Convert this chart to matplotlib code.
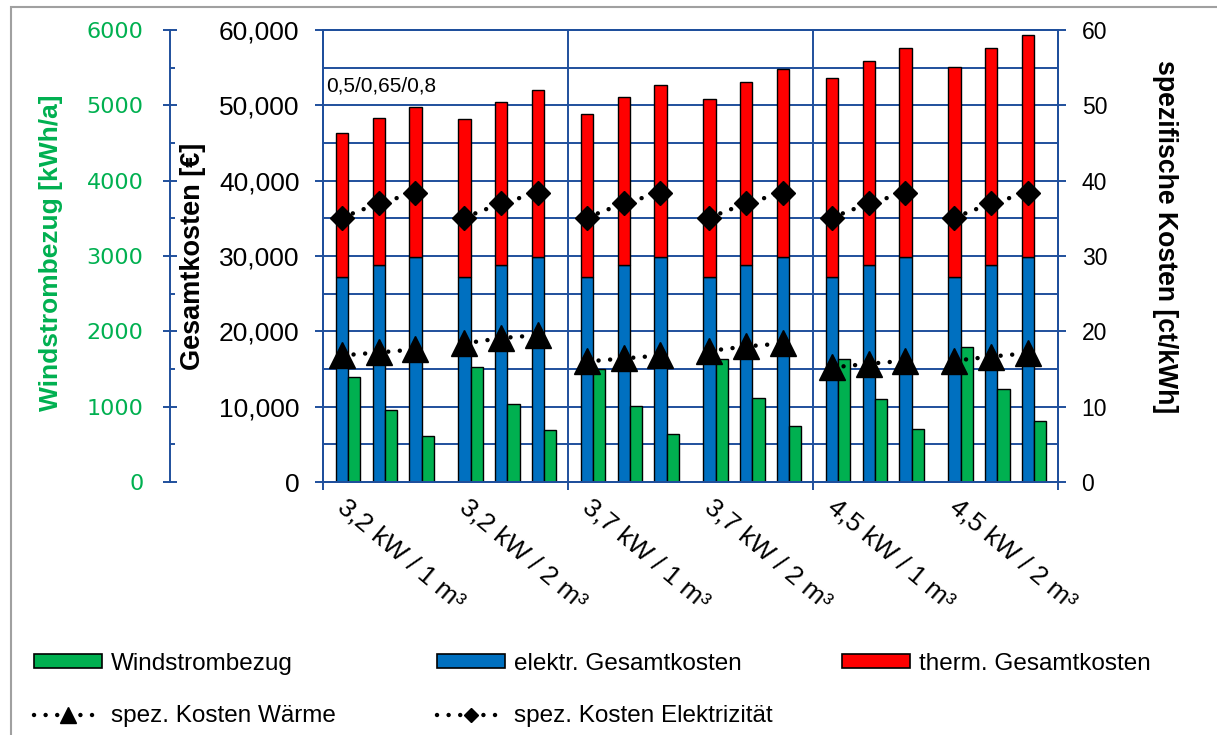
import numpy as np
import matplotlib.pyplot as plt
from matplotlib.lines import Line2D
from matplotlib.patches import Patch, Rectangle
from matplotlib.ticker import MultipleLocator
from matplotlib.transforms import ScaledTranslation

plt.rcParams['font.family'] = ['Liberation Sans', 'DejaVu Sans']

# configurations (x axis), three sub-variants 0,5 / 0,65 / 0,8 each
configs = ["3,2 kW / 1 m³", "3,2 kW / 2 m³", "3,7 kW / 1 m³",
           "3,7 kW / 2 m³", "4,5 kW / 1 m³", "4,5 kW / 2 m³"]

# elektr. Gesamtkosten [€]
elektr = [[27200, 28800, 29900]] * 6
# therm. Gesamtkosten [€] (stacked on top of elektr.)
therm = [[19100, 19550, 19900],
         [21000, 21600, 22100],
         [21700, 22350, 22750],
         [23650, 24350, 24900],
         [26450, 27100, 27750],
         [27950, 28750, 29450]]
# Windstrombezug [kWh/a]
wind = [[1395, 952, 611],
        [1528, 1041, 687],
        [1497, 1010, 643],
        [1630, 1121, 740],
        [1639, 1108, 700],
        [1793, 1231, 810]]
# spez. Kosten Wärme / Elektrizität [ct/kWh]
spez_waerme = [[16.8, 17.2, 17.6],
               [18.4, 19.1, 19.5],
               [16.0, 16.4, 16.8],
               [17.4, 18.0, 18.4],
               [15.2, 15.7, 16.1],
               [16.1, 16.65, 17.1]]
spez_elek = [[35.1, 37.0, 38.4]] * 6

left_ticks = list(range(0, 60001, 10000))
wind_ticks = list(range(0, 6001, 1000))
right_ticks = list(range(0, 61, 10))

GRID = '#1f4f9c'
C_BLUE = '#0070c0'
C_RED = '#ff0000'
C_GREEN = '#00b050'

W, H = 1217, 735
fig = plt.figure(figsize=(W / 100, H / 100), dpi=100)
ax = fig.add_axes([323 / W, 1 - 482 / H, 735 / W, 452 / H])
ax3 = ax.twinx()   # Windstrombezug axis (far left)
ax2 = ax.twinx()   # spezifische Kosten (right)

sub_off = np.array([-0.295, 0.005, 0.305])
bw = 0.1
xs = np.add.outer(np.arange(len(configs)), sub_off)

el = np.array(elektr)
ax.bar(xs.ravel() - bw / 2, el.ravel(), width=bw, color=C_BLUE,
       edgecolor='black', linewidth=1, zorder=3)
ax.bar(xs.ravel() - bw / 2, np.array(therm).ravel(), bottom=el.ravel(),
       width=bw, color=C_RED, edgecolor='black', linewidth=1, zorder=3)
ax3.bar(xs.ravel() + bw / 2, np.array(wind).ravel(), width=bw,
        color=C_GREEN, edgecolor='black', linewidth=1, zorder=3)

dots = (0, (0.01, 2.6))
for g in range(len(configs)):
    ax2.plot(xs[g] - bw / 2, spez_waerme[g], color='black', lw=3.2,
             ls=dots, dash_capstyle='round', marker='^', ms=18.5)
    ax2.plot(xs[g] - bw / 2, spez_elek[g], color='black', lw=3.2,
             ls=dots, dash_capstyle='round', marker='D', ms=12.5)

# main axis
ax.set_xlim(-0.5, len(configs) - 0.5)
ax.set_ylim(0, 60000)
ax.set_yticks(left_ticks, [f"{v:,}" for v in left_ticks])
ax.yaxis.set_minor_locator(MultipleLocator(5000))
ax.set_xticks([-0.5, 1.5, 3.5, 5.5])
ax.set_axisbelow(True)
ax.grid(True, which='both', axis='y', color=GRID, lw=1.4)
ax.grid(True, which='major', axis='x', color=GRID, lw=1.4)
ax.tick_params(axis='y', which='major', direction='out', length=6,
               width=1.4, color=GRID, labelsize=19, pad=11)
ax.tick_params(axis='y', which='minor', length=0)
ax.tick_params(axis='x', direction='out', length=6, width=1.4,
               color=GRID, labelbottom=False)
for a in (ax, ax2):
    for sp in a.spines.values():
        sp.set_color(GRID)
        sp.set_linewidth(1.4)

# right axis
ax2.set_ylim(0, 60)
ax2.set_yticks(right_ticks)
ax2.tick_params(axis='y', direction='out', length=6, width=1.4,
                color=GRID, labelsize=16.5, pad=11)

# green axis
ax3.set_ylim(0, 6000)
ax3.set_yticks(wind_ticks)
ax3.yaxis.set_minor_locator(MultipleLocator(500))
ax3.yaxis.set_ticks_position('left')
ax3.spines['left'].set_position(('axes', -0.208))
ax3.spines['left'].set_color(GRID)
ax3.spines['left'].set_linewidth(1.4)
for s in ('right', 'top', 'bottom'):
    ax3.spines[s].set_visible(False)
ax3.tick_params(axis='y', which='major', direction='inout', length=9.5,
                width=1.4, color=GRID, labelsize=16, labelcolor=C_GREEN,
                pad=14.5)
ax3.tick_params(axis='y', which='minor', direction='in', length=3.6,
                width=1.4, color=GRID)
for lbl in ax3.get_yticklabels():
    lbl.set_fontfamily('DejaVu Sans')

# category labels
off = ScaledTranslation(-0.36, -0.13, fig.dpi_scale_trans)
for g, lab in enumerate(configs):
    ax.text(g, 0, lab, transform=ax.get_xaxis_transform() + off,
            rotation=-40, rotation_mode='anchor', ha='left', va='top',
            fontsize=19)

ax.text(0.004, 0.863, "0,5/0,65/0,8", transform=ax.transAxes,
        fontsize=15, va='baseline', ha='left')

# axis titles
fig.text(51 / W, 1 - 253 / H, "Windstrombezug [kWh/a]", rotation=90,
         ha='center', va='center', fontsize=19, fontweight='bold',
         color=C_GREEN)
fig.text(193 / W, 1 - 256 / H, "Gesamtkosten [€]", rotation=90,
         ha='center', va='center', fontsize=19.5, fontweight='bold')
fig.text(1165 / W, 1 - 237 / H, "spezifische Kosten [ct/kWh]", rotation=270,
         ha='center', va='center', fontsize=19.2, fontweight='bold')

# legend, three columns
def bar_handle(c):
    return Patch(facecolor=c, edgecolor='black', linewidth=1.2)

def line_handle(m, ms):
    return Line2D([], [], color='black', lw=3.2, ls=dots,
                  dash_capstyle='round', marker=m, ms=ms)

cols = [
    (34, [bar_handle(C_GREEN), line_handle('^', 18.5)],
     ["Windstrombezug", "spez. Kosten Wärme"]),
    (437, [bar_handle(C_BLUE), line_handle('D', 12.5)],
     ["elektr. Gesamtkosten", "spez. Kosten Elektrizität"]),
    (842, [bar_handle(C_RED)], ["therm. Gesamtkosten"]),
]
for x0, hs, ls in cols:
    leg = fig.legend(hs, ls, loc='upper left',
                     bbox_to_anchor=(x0 / W, 1 - 653 / H),
                     frameon=False, fontsize=17.5, handlelength=2.8,
                     handleheight=0.5, handletextpad=0.37, labelspacing=1.25,
                     borderpad=0, borderaxespad=0, markerscale=0.6)

# outer frame
fig.add_artist(Rectangle((11 / W, -0.1), 1.2, 1.1 - 7 / H,
                         transform=fig.transFigure, fill=False,
                         edgecolor='#a0a0a0', linewidth=1.5))

fig.savefig('out.png', dpi=100)
